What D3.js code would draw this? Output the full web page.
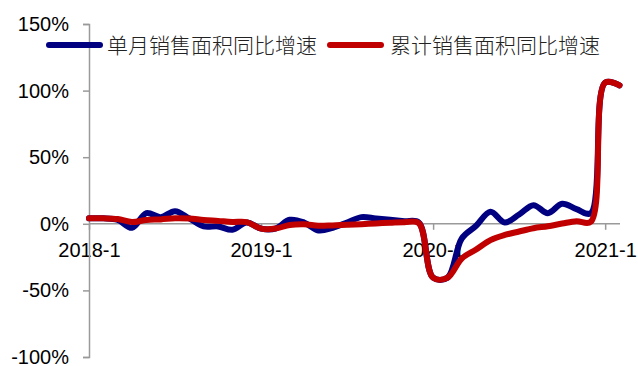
<!DOCTYPE html>
<html>
<head>
<meta charset="utf-8">
<script src="https://cdn.jsdelivr.net/npm/d3@7"></script>
<style>
  body { margin: 0; background: #fff; }
  svg { display: block; }
</style>
</head>
<body>
<div id="chart"></div>
<script>
// months shown on the x axis (2018-1 .. 2021-2)
const months = [
  "2018-1","2018-2","2018-3","2018-4","2018-5","2018-6","2018-7","2018-8","2018-9","2018-10","2018-11","2018-12",
  "2019-1","2019-2","2019-3","2019-4","2019-5","2019-6","2019-7","2019-8","2019-9","2019-10","2019-11","2019-12",
  "2020-1","2020-2","2020-3","2020-4","2020-5","2020-6","2020-7","2020-8","2020-9","2020-10","2020-11","2020-12",
  "2021-1","2021-2"
];

// 单月销售面积同比增速 (%)
const monthly = [
  4.1, 4.1, 3, -3, 8, 5, 9.5, 4, -2, -2, -4.5, 1,
  -3.6, -3.6, 3, 1, -5, -3, 1, 5, 4, 3, 2, 1,
  -40.5, -40.5, -11, -1.5, 9, 1, 7, 14, 8, 15, 11, 8,
  106, 104
];

// 累计销售面积同比增速 (%)
const cumulative = [
  4.1, 4.1, 3.6, 1.3, 2.9, 3.3, 4.2, 4.0, 2.9, 2.2, 1.4, 1.3,
  -3.6, -3.6, -0.9, -0.3, -1.5, -1.2, -0.8, -0.3, 0.3, 0.8, 1.2, 0.5,
  -40.5, -40.5, -26, -19.3, -12.3, -8.4, -5.8, -3.3, -1.8, 0.2, 2, 1.5,
  106, 104
];

const xTickLabels = ["2018-1", "2019-1", "2020-1", "2021-1"];
const yTicks = [-100, -50, 0, 50, 100, 150];

const seriesNames = ["单月销售面积同比增速", "累计销售面积同比增速"];
const seriesColors = ["#000080", "#C00000"];

const width = 638, height = 366;

const svg = d3.select("#chart").append("svg")
  .attr("width", width)
  .attr("height", height);

const x = d3.scalePoint()
  .domain(months)
  .range([89, 619.5]);

const y = d3.scaleLinear()
  .domain([-100, 150])
  .range([357, 24]);

// x axis on the 0% line
const xAxis = svg.append("g")
  .attr("transform", `translate(0,${y(0)})`)
  .call(d3.axisBottom(x)
    .tickValues(xTickLabels)
    .tickSizeOuter(0)
    .tickSize(6)
    .tickPadding(13));
xAxis.select(".domain").attr("d", `M${x(months[0])},0H620`);

// y axis
const yAxis = svg.append("g")
  .attr("transform", `translate(89,0)`)
  .call(d3.axisLeft(y)
    .tickValues(yTicks)
    .tickSizeOuter(0)
    .tickSize(6)
    .tickPadding(14)
    .tickFormat(d => d + "%"));

svg.selectAll(".domain, .tick line")
  .attr("stroke", "#9a9a9a")
  .attr("stroke-width", 1.5);
svg.selectAll(".tick text")
  .attr("fill", "#000")
  .style("font-family", "'Liberation Sans', Arial, sans-serif")
  .style("font-size", "20px");

const line = d3.line()
  .x((d, i) => x(months[i]))
  .y(d => y(d))
  .curve(d3.curveCatmullRom.alpha(0.5));

[monthly, cumulative].forEach((vals, k) => {
  svg.append("path")
    .datum(vals)
    .attr("fill", "none")
    .attr("stroke", seriesColors[k])
    .attr("stroke-width", 6)
    .attr("stroke-linejoin", "round")
    .attr("stroke-linecap", "round")
    .attr("d", line);
});

// legend
const legendPos = [{x: 49, tx: 107}, {x: 330, tx: 390}];
seriesNames.forEach((name, k) => {
  const g = svg.append("g");
  g.append("line")
    .attr("x1", legendPos[k].x).attr("x2", legendPos[k].x + 51)
    .attr("y1", 45).attr("y2", 45)
    .attr("stroke", seriesColors[k])
    .attr("stroke-width", 6)
    .attr("stroke-linecap", "round");
  g.append("text")
    .attr("x", legendPos[k].tx)
    .attr("y", 45)
    .attr("dy", "0.36em")
    .attr("fill", "#222")
    .style("font-family", "'Noto Sans CJK SC', sans-serif")
    .style("font-size", "21px")
    .style("font-weight", 300)
    .text(name);
});
</script>
</body>
</html>
